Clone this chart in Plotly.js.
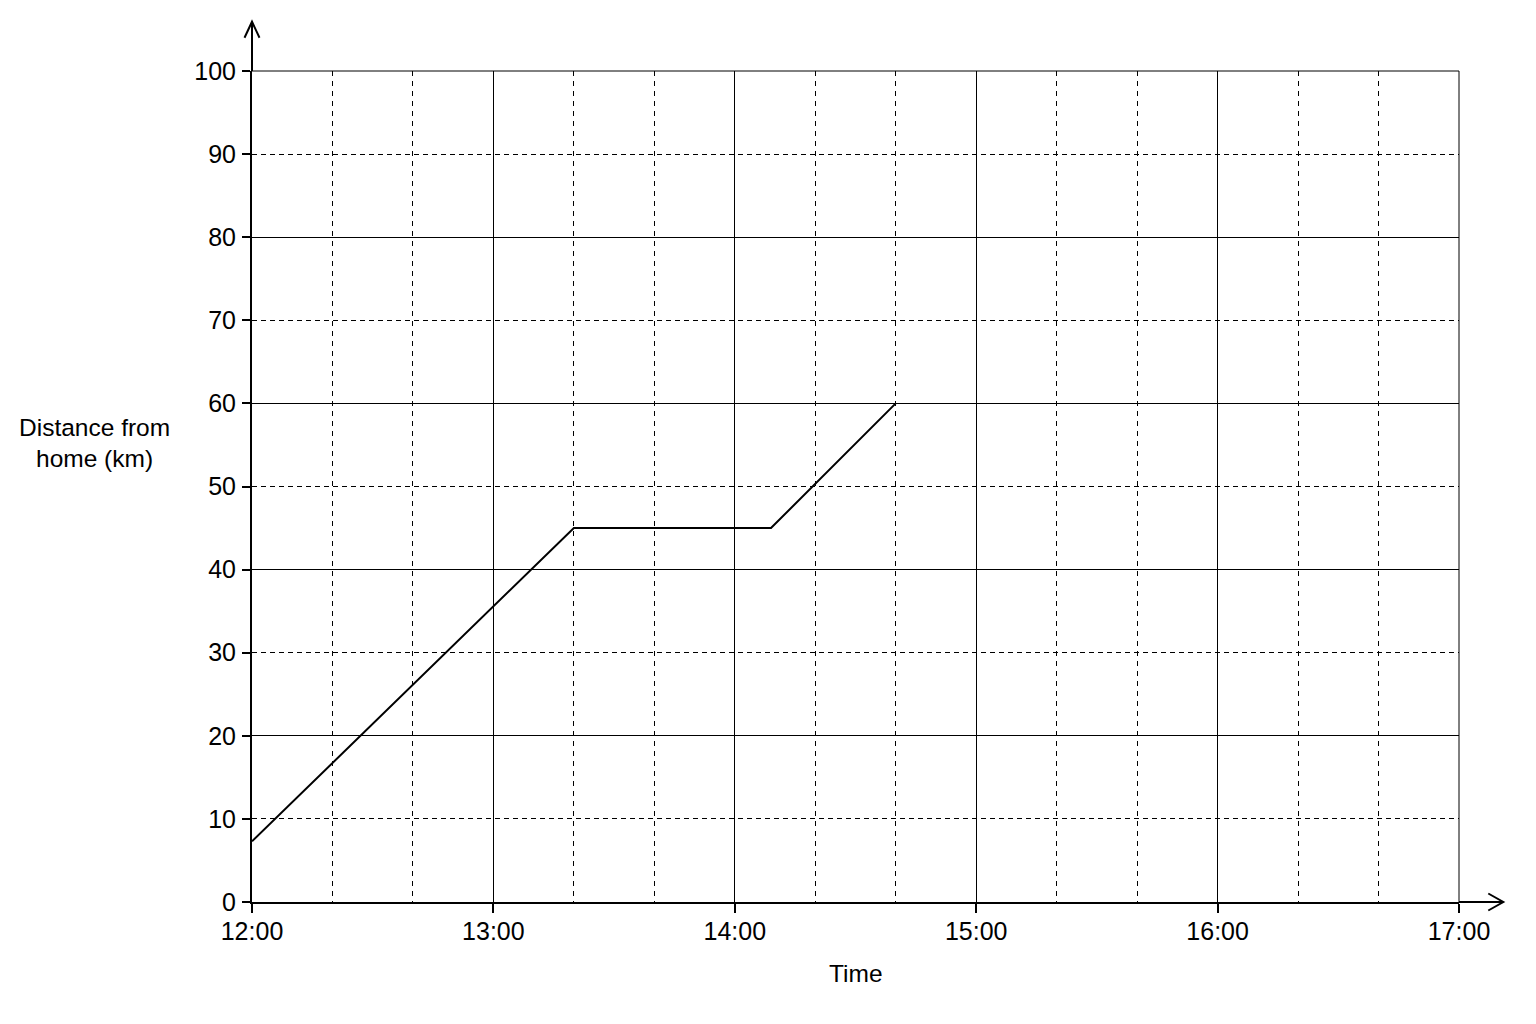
<!DOCTYPE html>
<html>
<head>
<meta charset="utf-8">
<script src="https://cdn.plot.ly/plotly-3.0.1.min.js"></script>
<style>
  html, body { margin: 0; padding: 0; background: #ffffff; }
  #chart { width: 1536px; height: 1024px; }
</style>
</head>
<body>
<div id="chart"></div>
<script>
// ---- data ----
const times = ["12:00", "13:20", "14:09", "14:40"];
const distances = [7.3, 45, 45, 60];
const timeTickLabels = ["12:00", "13:00", "14:00", "15:00", "16:00", "17:00"];
const distanceTicks = [0, 10, 20, 30, 40, 50, 60, 70, 80, 90, 100];

function minutesFromNoon(t) {
  const p = t.split(":");
  return (parseInt(p[0], 10) - 12) * 60 + parseInt(p[1], 10);
}
const xMinutes = times.map(minutesFromNoon);
const timeTickVals = timeTickLabels.map(minutesFromNoon);

const FONT = '"Liberation Sans", Arial, Helvetica, sans-serif';
const INK = '#000000';
const TICKSIZE = 25;
const TITLESIZE = 24.5;

const traces = [
  {
    type: 'scatter', mode: 'lines',
    x: xMinutes, y: distances,
    line: { color: '#000000', width: 2 },
    hoverinfo: 'skip', showlegend: false
  },
  {
    type: 'scatter', mode: 'lines', x: [], y: [], yaxis: 'y2',
    hoverinfo: 'skip', showlegend: false
  }
];

const layout = {
  width: 1536, height: 1024,
  margin: { l: 252, r: 77, t: 71, b: 122 },
  paper_bgcolor: '#ffffff', plot_bgcolor: '#ffffff',
  font: { family: FONT, size: TICKSIZE, color: '#000000' },
  showlegend: false,
  xaxis: {
    range: [0, 300],
    tickmode: 'array', tickvals: timeTickVals, ticktext: timeTickLabels,
    ticks: 'outside', ticklen: 9, tickwidth: 2, tickcolor: INK,
    ticklabelstandoff: -3,
    showgrid: true, gridcolor: INK, gridwidth: 1,
    minor: { tickmode: 'linear', tick0: 0, dtick: 20, showgrid: true, gridcolor: INK, gridwidth: 1, griddash: '5px,5px', ticks: '' },
    showline: true, linecolor: '#000000', linewidth: 2,
    zeroline: false, fixedrange: true,
    tickfont: { family: FONT, size: TICKSIZE, color: '#000000' }
  },
  yaxis: {
    range: [0, 100],
    tickmode: 'array', tickvals: distanceTicks,
    ticks: 'outside', ticklen: 8, tickwidth: 2, tickcolor: INK,
    ticklabelstandoff: 1,
    showgrid: true, gridcolor: INK, gridwidth: 1, griddash: '5px,4px',
    showline: true, linecolor: '#000000', linewidth: 2,
    zeroline: false, fixedrange: true,
    tickfont: { family: FONT, size: TICKSIZE, color: '#000000' }
  },
  yaxis2: {
    overlaying: 'y', range: [0, 100],
    tickmode: 'linear', tick0: 0, dtick: 20,
    showgrid: true, gridcolor: INK, gridwidth: 1,
    showticklabels: false, ticks: '', showline: false, zeroline: false, fixedrange: true
  },
  annotations: [
    { xref: 'paper', yref: 'paper', x: -0.1305, y: 0.5715, xanchor: 'center', yanchor: 'middle',
      text: 'Distance from', showarrow: false, font: { family: FONT, size: TITLESIZE, color: '#000000' } },
    { xref: 'paper', yref: 'paper', x: -0.1305, y: 0.5342, xanchor: 'center', yanchor: 'middle',
      text: 'home (km)', showarrow: false, font: { family: FONT, size: TITLESIZE, color: '#000000' } },
    { xref: 'paper', yref: 'paper', x: 0.5, y: -0.0866, xanchor: 'center', yanchor: 'middle',
      text: 'Time', showarrow: false, font: { family: FONT, size: TITLESIZE, color: '#000000' } }
  ],
  shapes: [
    // frame lines at 100 km and 17:00
    { type: 'line', xref: 'paper', yref: 'paper', x0: 0, x1: 1, y0: 1, y1: 1,
      line: { color: INK, width: 1 } },
    { type: 'line', xref: 'paper', yref: 'paper', x0: 1, x1: 1, y0: 0, y1: 1,
      line: { color: INK, width: 1 } },
    // y-axis extension and open arrow head
    { type: 'line', xref: 'paper', yref: 'paper', x0: 0, x1: 0, y0: 1, y1: 1.0593,
      line: { color: '#000000', width: 2 } },
    { type: 'path', xref: 'paper', yref: 'paper', xsizemode: 'pixel', ysizemode: 'pixel',
      xanchor: 0, yanchor: 1.0593, path: 'M -7.5,-16 L 0,0 L 7.5,-16',
      line: { color: '#000000', width: 2 } },
    // x-axis extension and open arrow head
    { type: 'line', xref: 'paper', yref: 'paper', x0: 1, x1: 1.0367, y0: 0, y1: 0,
      line: { color: '#000000', width: 2 } },
    { type: 'path', xref: 'paper', yref: 'paper', xsizemode: 'pixel', ysizemode: 'pixel',
      xanchor: 1.0367, yanchor: 0, path: 'M -15,8.5 L 0,0 L -15,-8.5',
      line: { color: '#000000', width: 2 } }
  ]
};

Plotly.newPlot('chart', traces, layout, { displayModeBar: false, responsive: false });
</script>
</body>
</html>
